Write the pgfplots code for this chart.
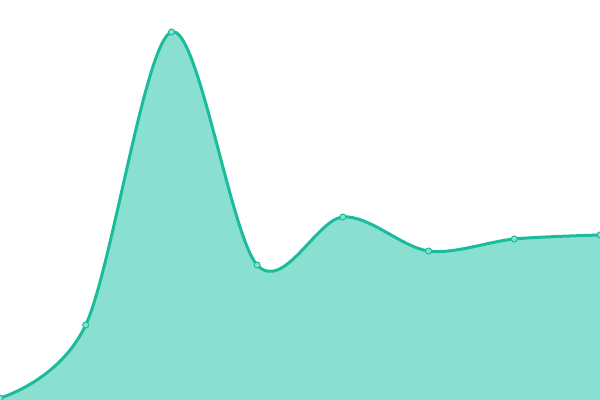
\documentclass[border=0pt]{standalone}
\usepackage{pgfplots}
\pgfplotsset{compat=1.18}
\definecolor{lineC}{HTML}{1ABC9C}
\definecolor{fillC}{HTML}{8AE0D0}
\begin{document}
\begin{tikzpicture}
\begin{axis}[
  scale only axis, width=600bp, height=400bp,
  xmin=0, xmax=7, ymin=0, ymax=400,
  axis line style={draw=none}, ticks=none,
  clip=true, clip marker paths=true,
]
\addplot[draw=none, fill=fillC, smooth, tension=0.55] coordinates {
(0,2) (1,75) (2,368) (3,135) (4,183) (5,149) (6,161) (7,165)
} \closedcycle;
\addplot[lineC, line width=3bp, smooth, tension=0.55,
  mark=*, mark size=3bp, mark options={fill=fillC, draw=lineC, line width=1bp}] coordinates {
(0,2) (1,75) (2,368) (3,135) (4,183) (5,149) (6,161) (7,165)
};
\end{axis}
\end{tikzpicture}
\end{document}
